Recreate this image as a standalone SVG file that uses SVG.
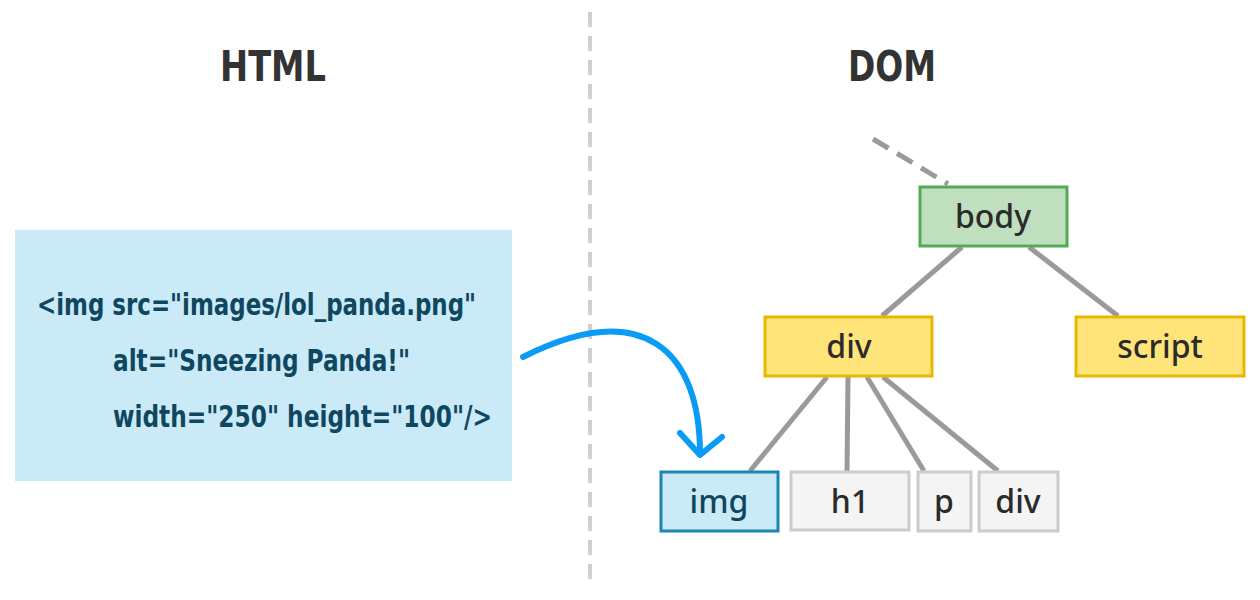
<svg xmlns="http://www.w3.org/2000/svg" width="1260" height="600" viewBox="0 0 1260 600">
<style>
.title{font-family:"Liberation Sans Narrow","DejaVu Sans Condensed","Roboto",sans-serif;font-weight:bold;font-size:43px;fill:#333;text-anchor:middle}
.code{font-family:"DejaVu Sans Condensed","Noto Sans",sans-serif;font-weight:bold;font-size:30px;fill:#0f4760}
.lbl{font-family:"Noto Sans","DejaVu Sans",sans-serif;font-weight:500;font-size:32px;fill:#2b2b2b;text-anchor:middle}
.edge{stroke:#9a9a9a;stroke-width:5;fill:none}
.body{fill:#bfdfbf;stroke:#55ab55;stroke-width:3}
.yel{fill:#ffe47a;stroke:#e8b800;stroke-width:3}
.imgn{fill:#cbeaf7;stroke:#1a86b3;stroke-width:3}
.gray{fill:#f4f4f4;stroke:#cccccc;stroke-width:3}
</style>
<rect width="1260" height="600" fill="#fff"/>
<line x1="590" y1="12" x2="590" y2="580" stroke="#d0d0d0" stroke-width="4" stroke-dasharray="15,9"/>
<text class="title" x="273" y="81" textLength="106" lengthAdjust="spacingAndGlyphs">HTML</text>
<text class="title" x="892" y="81" textLength="88" lengthAdjust="spacingAndGlyphs">DOM</text>
<g id="html-code">
<rect x="15" y="230" width="497" height="251" fill="#cbeaf7"/>
<text class="code" x="37" y="315" textLength="439" lengthAdjust="spacingAndGlyphs">&lt;img src="images/lol_panda.png"</text>
<text class="code" x="113" y="371" textLength="297" lengthAdjust="spacingAndGlyphs">alt="Sneezing Panda!"</text>
<text class="code" x="113" y="427" textLength="379" lengthAdjust="spacingAndGlyphs">width="250" height="100"/&gt;</text>
</g>
<g id="connectors">
<line class="edge" x1="873" y1="139" x2="948" y2="184" stroke-dasharray="18,10"/>
<line class="edge" x1="962" y1="247" x2="882" y2="316"/>
<line class="edge" x1="1029" y1="247" x2="1118" y2="316"/>
<line class="edge" x1="827" y1="377" x2="750" y2="471"/>
<line class="edge" x1="848" y1="377" x2="847" y2="471"/>
<line class="edge" x1="867" y1="377" x2="924" y2="471"/>
<line class="edge" x1="883" y1="377" x2="998" y2="471"/>
<path d="M523,357 C643,297 700,350 700,454" fill="none" stroke="#0a9cf5" stroke-width="6" stroke-linecap="round"/>
<polyline points="680,433 700,455 722,437" fill="none" stroke="#0a9cf5" stroke-width="6" stroke-linecap="round" stroke-linejoin="round"/>
</g>
<g id="node-body"><rect class="body" x="920" y="187" width="147" height="59"/><text class="lbl" x="993" y="228">body</text></g>
<g id="node-div"><rect class="yel" x="765" y="317" width="167" height="59"/><text class="lbl" x="849" y="358">div</text></g>
<g id="node-script"><rect class="yel" x="1076" y="317" width="168" height="59"/><text class="lbl" x="1160" y="358">script</text></g>
<g id="node-img"><rect class="imgn" x="661" y="472" width="117" height="59"/><text class="lbl" x="719" y="513" style="fill:#0f4760">img</text></g>
<g id="node-h1"><rect class="gray" x="791" y="472" width="118" height="58"/><text class="lbl" x="850" y="513">h1</text></g>
<g id="node-p"><rect class="gray" x="918" y="472" width="53" height="59"/><text class="lbl" x="944" y="513">p</text></g>
<g id="node-div2"><rect class="gray" x="979" y="472" width="79" height="59"/><text class="lbl" x="1018" y="513">div</text></g>
</svg>
